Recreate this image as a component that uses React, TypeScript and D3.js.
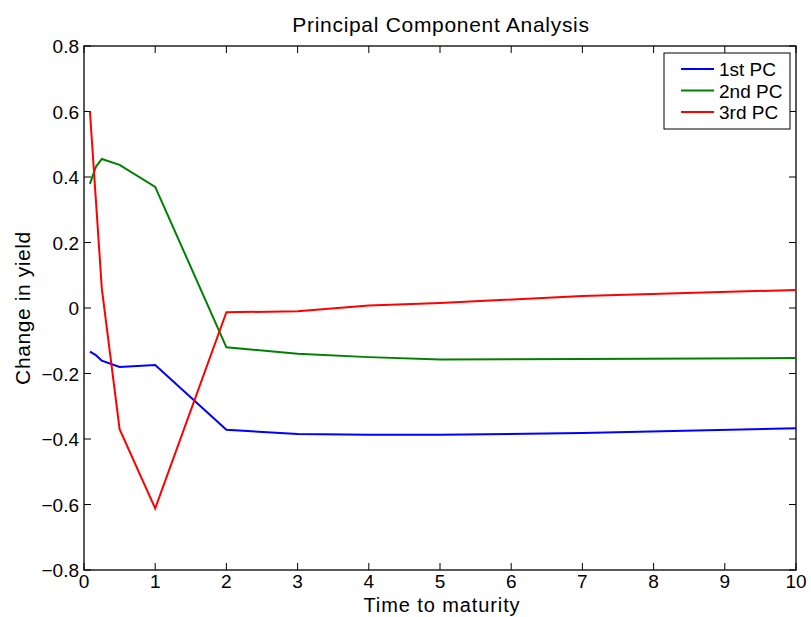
import React, { useEffect, useRef } from 'react';
import * as d3 from 'd3';

const maturities = [1 / 12, 1 / 6, 0.25, 0.5, 1, 2, 3, 4, 5, 7, 10];
const pc1 = [-0.133, -0.144, -0.161, -0.18, -0.174, -0.372, -0.385, -0.387, -0.387, -0.382, -0.367];
const pc2 = [0.379, 0.431, 0.455, 0.437, 0.37, -0.12, -0.14, -0.15, -0.157, -0.156, -0.153];
const pc3 = [0.6, 0.33, 0.06, -0.37, -0.612, -0.013, -0.01, 0.008, 0.015, 0.037, 0.055];
const seriesNames = ['1st PC', '2nd PC', '3rd PC'];
const seriesColors = ['#0000ff', '#008000', '#ff0000'];
const xTicks = [0, 1, 2, 3, 4, 5, 6, 7, 8, 9, 10];
const yTicks = [-0.8, -0.6, -0.4, -0.2, 0, 0.2, 0.4, 0.6, 0.8];

const App = () => {
  const ref = useRef<SVGSVGElement>(null);

  useEffect(() => {
    const svg = d3.select(ref.current);
    svg.selectAll('*').remove();
    const left = 84, right = 796, top = 46, bottom = 570;
    const x = d3.scaleLinear().domain([0, 10]).range([left, right]);
    const y = d3.scaleLinear().domain([-0.8, 0.8]).range([bottom, top]);
    const font = "'Liberation Sans', Arial, sans-serif";

    svg.append('rect').attr('width', 811).attr('height', 617).attr('fill', '#fff');

    // axes box
    svg.append('rect').attr('x', left).attr('y', top).attr('width', right - left).attr('height', bottom - top)
      .attr('fill', 'none').attr('stroke', '#000').attr('stroke-width', 1.3);

    const tl = 7;
    xTicks.forEach((t) => {
      svg.append('line').attr('x1', x(t)).attr('x2', x(t)).attr('y1', bottom).attr('y2', bottom - tl).attr('stroke', '#000');
      svg.append('line').attr('x1', x(t)).attr('x2', x(t)).attr('y1', top).attr('y2', top + tl).attr('stroke', '#000');
      svg.append('text').attr('x', x(t)).attr('y', bottom + 18).attr('text-anchor', 'middle')
        .attr('font-family', font).attr('font-size', 19).text(String(t));
    });
    yTicks.forEach((t) => {
      svg.append('line').attr('x1', left).attr('x2', left + tl).attr('y1', y(t)).attr('y2', y(t)).attr('stroke', '#000');
      svg.append('line').attr('x1', right).attr('x2', right - tl).attr('y1', y(t)).attr('y2', y(t)).attr('stroke', '#000');
      const lbl = t === 0 ? '0' : (t < 0 ? '\u2212' : '') + Math.abs(t).toFixed(1);
      svg.append('text').attr('x', left - 5).attr('y', y(t) + 7).attr('text-anchor', 'end')
        .attr('font-family', font).attr('font-size', 19).text(lbl);
    });

    const line = d3.line<number>().x((d, i) => x(maturities[i])).y((d) => y(d));
    [pc1, pc2, pc3].forEach((s, i) => {
      svg.append('path').attr('d', line(s)).attr('fill', 'none')
        .attr('stroke', seriesColors[i]).attr('stroke-width', 2);
    });

    svg.append('text').attr('x', 441).attr('y', 32).attr('text-anchor', 'middle')
      .attr('font-family', font).attr('font-size', 21).attr('letter-spacing', 0.7).text('Principal Component Analysis');
    svg.append('text').attr('x', 442).attr('y', 612).attr('text-anchor', 'middle')
      .attr('font-family', font).attr('font-size', 20).attr('letter-spacing', 0.9).text('Time to maturity');
    svg.append('text').attr('transform', `translate(30,${(top + bottom) / 2}) rotate(-90)`).attr('text-anchor', 'middle')
      .attr('font-family', font).attr('font-size', 21).attr('letter-spacing', 0.6).text('Change in yield');

    // legend
    const lg = svg.append('g');
    lg.append('rect').attr('x', 664).attr('y', 53).attr('width', 126).attr('height', 76)
      .attr('fill', '#fff').attr('stroke', '#000').attr('stroke-width', 1);
    seriesNames.forEach((n, i) => {
      const yy = 69 + i * 21.5;
      lg.append('line').attr('x1', 681).attr('x2', 714).attr('y1', yy).attr('y2', yy)
        .attr('stroke', seriesColors[i]).attr('stroke-width', 2);
      lg.append('text').attr('x', 719).attr('y', yy + 7).attr('font-family', font).attr('font-size', 19).text(n);
    });
  }, []);

  return <svg ref={ref} width={811} height={617} style={{ position: 'absolute', left: 0, top: 0 }} />;
};

export default App;
